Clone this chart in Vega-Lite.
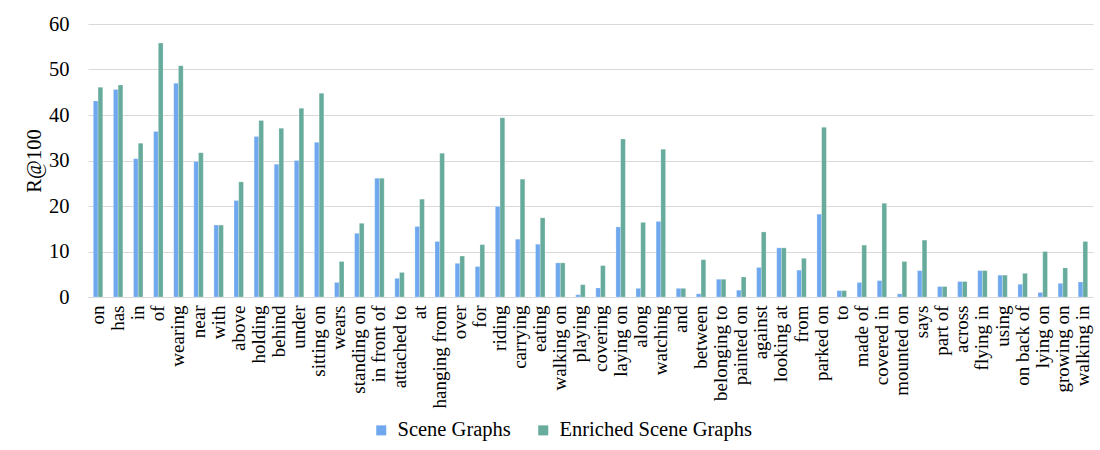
{
  "$schema": "https://vega.github.io/schema/vega-lite/v6.json",
  "width": 1005,
  "height": 273,
  "autosize": {"type": "none"},
  "padding": {"left": 88, "top": 24, "right": 7, "bottom": 153},
  "background": "white",
  "config": {
    "view": {"stroke": null},
    "font": "Liberation Serif",
    "axis": {"labelFont": "Liberation Serif", "titleFont": "Liberation Serif"},
    "legend": {"labelFont": "Liberation Serif"}
  },
  "data": {
    "values": [
      {"relation": "on", "series": "Scene Graphs", "value": 43.1},
      {"relation": "on", "series": "Enriched Scene Graphs", "value": 46.1},
      {"relation": "has", "series": "Scene Graphs", "value": 45.6},
      {"relation": "has", "series": "Enriched Scene Graphs", "value": 46.6},
      {"relation": "in", "series": "Scene Graphs", "value": 30.4},
      {"relation": "in", "series": "Enriched Scene Graphs", "value": 33.8},
      {"relation": "of", "series": "Scene Graphs", "value": 36.4},
      {"relation": "of", "series": "Enriched Scene Graphs", "value": 55.8},
      {"relation": "wearing", "series": "Scene Graphs", "value": 47.0},
      {"relation": "wearing", "series": "Enriched Scene Graphs", "value": 50.8},
      {"relation": "near", "series": "Scene Graphs", "value": 29.8},
      {"relation": "near", "series": "Enriched Scene Graphs", "value": 31.7},
      {"relation": "with", "series": "Scene Graphs", "value": 15.8},
      {"relation": "with", "series": "Enriched Scene Graphs", "value": 15.8},
      {"relation": "above", "series": "Scene Graphs", "value": 21.2},
      {"relation": "above", "series": "Enriched Scene Graphs", "value": 25.3},
      {"relation": "holding", "series": "Scene Graphs", "value": 35.3},
      {"relation": "holding", "series": "Enriched Scene Graphs", "value": 38.8},
      {"relation": "behind", "series": "Scene Graphs", "value": 29.2},
      {"relation": "behind", "series": "Enriched Scene Graphs", "value": 37.1},
      {"relation": "under", "series": "Scene Graphs", "value": 30.0},
      {"relation": "under", "series": "Enriched Scene Graphs", "value": 41.5},
      {"relation": "sitting on", "series": "Scene Graphs", "value": 34.0},
      {"relation": "sitting on", "series": "Enriched Scene Graphs", "value": 44.8},
      {"relation": "wears", "series": "Scene Graphs", "value": 3.2},
      {"relation": "wears", "series": "Enriched Scene Graphs", "value": 7.8},
      {"relation": "standing on", "series": "Scene Graphs", "value": 14.0},
      {"relation": "standing on", "series": "Enriched Scene Graphs", "value": 16.2},
      {"relation": "in front of", "series": "Scene Graphs", "value": 26.1},
      {"relation": "in front of", "series": "Enriched Scene Graphs", "value": 26.1},
      {"relation": "attached to", "series": "Scene Graphs", "value": 4.1},
      {"relation": "attached to", "series": "Enriched Scene Graphs", "value": 5.4},
      {"relation": "at", "series": "Scene Graphs", "value": 15.5},
      {"relation": "at", "series": "Enriched Scene Graphs", "value": 21.5},
      {"relation": "hanging from", "series": "Scene Graphs", "value": 12.2},
      {"relation": "hanging from", "series": "Enriched Scene Graphs", "value": 31.6},
      {"relation": "over", "series": "Scene Graphs", "value": 7.4},
      {"relation": "over", "series": "Enriched Scene Graphs", "value": 9.0},
      {"relation": "for", "series": "Scene Graphs", "value": 6.7},
      {"relation": "for", "series": "Enriched Scene Graphs", "value": 11.5},
      {"relation": "riding", "series": "Scene Graphs", "value": 19.9},
      {"relation": "riding", "series": "Enriched Scene Graphs", "value": 39.4},
      {"relation": "carrying", "series": "Scene Graphs", "value": 12.7},
      {"relation": "carrying", "series": "Enriched Scene Graphs", "value": 25.9},
      {"relation": "eating", "series": "Scene Graphs", "value": 11.6},
      {"relation": "eating", "series": "Enriched Scene Graphs", "value": 17.4},
      {"relation": "walking on", "series": "Scene Graphs", "value": 7.5},
      {"relation": "walking on", "series": "Enriched Scene Graphs", "value": 7.5},
      {"relation": "playing", "series": "Scene Graphs", "value": 0.5},
      {"relation": "playing", "series": "Enriched Scene Graphs", "value": 2.7},
      {"relation": "covering", "series": "Scene Graphs", "value": 2.0},
      {"relation": "covering", "series": "Enriched Scene Graphs", "value": 6.9},
      {"relation": "laying on", "series": "Scene Graphs", "value": 15.4},
      {"relation": "laying on", "series": "Enriched Scene Graphs", "value": 34.7},
      {"relation": "along", "series": "Scene Graphs", "value": 1.9},
      {"relation": "along", "series": "Enriched Scene Graphs", "value": 16.4},
      {"relation": "watching", "series": "Scene Graphs", "value": 16.6},
      {"relation": "watching", "series": "Enriched Scene Graphs", "value": 32.5},
      {"relation": "and", "series": "Scene Graphs", "value": 1.9},
      {"relation": "and", "series": "Enriched Scene Graphs", "value": 1.9},
      {"relation": "between", "series": "Scene Graphs", "value": 0.7},
      {"relation": "between", "series": "Enriched Scene Graphs", "value": 8.2},
      {"relation": "belonging to", "series": "Scene Graphs", "value": 3.9},
      {"relation": "belonging to", "series": "Enriched Scene Graphs", "value": 3.9},
      {"relation": "painted on", "series": "Scene Graphs", "value": 1.5},
      {"relation": "painted on", "series": "Enriched Scene Graphs", "value": 4.4},
      {"relation": "against", "series": "Scene Graphs", "value": 6.5},
      {"relation": "against", "series": "Enriched Scene Graphs", "value": 14.3},
      {"relation": "looking at", "series": "Scene Graphs", "value": 10.8},
      {"relation": "looking at", "series": "Enriched Scene Graphs", "value": 10.8},
      {"relation": "from", "series": "Scene Graphs", "value": 5.9},
      {"relation": "from", "series": "Enriched Scene Graphs", "value": 8.5},
      {"relation": "parked on", "series": "Scene Graphs", "value": 18.2},
      {"relation": "parked on", "series": "Enriched Scene Graphs", "value": 37.3},
      {"relation": "to", "series": "Scene Graphs", "value": 1.4},
      {"relation": "to", "series": "Enriched Scene Graphs", "value": 1.4},
      {"relation": "made of", "series": "Scene Graphs", "value": 3.2},
      {"relation": "made of", "series": "Enriched Scene Graphs", "value": 11.4},
      {"relation": "covered in", "series": "Scene Graphs", "value": 3.6},
      {"relation": "covered in", "series": "Enriched Scene Graphs", "value": 20.6},
      {"relation": "mounted on", "series": "Scene Graphs", "value": 0.7},
      {"relation": "mounted on", "series": "Enriched Scene Graphs", "value": 7.8},
      {"relation": "says", "series": "Scene Graphs", "value": 5.8},
      {"relation": "says", "series": "Enriched Scene Graphs", "value": 12.5},
      {"relation": "part of", "series": "Scene Graphs", "value": 2.3},
      {"relation": "part of", "series": "Enriched Scene Graphs", "value": 2.3},
      {"relation": "across", "series": "Scene Graphs", "value": 3.4},
      {"relation": "across", "series": "Enriched Scene Graphs", "value": 3.4},
      {"relation": "flying in", "series": "Scene Graphs", "value": 5.8},
      {"relation": "flying in", "series": "Enriched Scene Graphs", "value": 5.8},
      {"relation": "using", "series": "Scene Graphs", "value": 4.8},
      {"relation": "using", "series": "Enriched Scene Graphs", "value": 4.8},
      {"relation": "on back of", "series": "Scene Graphs", "value": 2.8},
      {"relation": "on back of", "series": "Enriched Scene Graphs", "value": 5.2},
      {"relation": "lying on", "series": "Scene Graphs", "value": 1.0},
      {"relation": "lying on", "series": "Enriched Scene Graphs", "value": 10.0},
      {"relation": "growing on", "series": "Scene Graphs", "value": 3.0},
      {"relation": "growing on", "series": "Enriched Scene Graphs", "value": 6.4},
      {"relation": "walking in", "series": "Scene Graphs", "value": 3.3},
      {"relation": "walking in", "series": "Enriched Scene Graphs", "value": 12.2}
    ]
  },
  "mark": {"type": "bar", "stroke": "#ffffff", "strokeWidth": 0.4, "strokeOpacity": 0.6},
  "encoding": {
    "x": {
      "field": "relation",
      "type": "nominal",
      "sort": null,
      "scale": {"paddingInner": 0.53, "paddingOuter": 0.265},
      "axis": {
        "title": null,
        "labelAngle": -90,
        "labelFont": "Liberation Serif",
        "labelFontSize": 19,
        "labelColor": "#000000",
        "labelPadding": 8,
        "ticks": false,
        "domainColor": "#d9d9d9",
        "domainWidth": 1,
        "labelOverlap": false
      }
    },
    "xOffset": {
      "field": "series",
      "type": "nominal",
      "sort": ["Scene Graphs", "Enriched Scene Graphs"],
      "scale": {"paddingInner": 0, "paddingOuter": 0}
    },
    "y": {
      "field": "value",
      "type": "quantitative",
      "scale": {"domain": [0, 60], "nice": false},
      "axis": {
        "title": "R@100",
        "titleFont": "Liberation Serif",
        "titleFontSize": 20.5,
        "titleFontWeight": "normal",
        "titleColor": "#000000",
        "titlePadding": 4,
        "values": [0, 10, 20, 30, 40, 50, 60],
        "labelFont": "Liberation Serif",
        "labelFontSize": 20.5,
        "labelColor": "#000000",
        "labelPadding": 19,
        "ticks": false,
        "domain": false,
        "gridColor": "#d9d9d9",
        "gridWidth": 1
      }
    },
    "color": {
      "field": "series",
      "type": "nominal",
      "sort": ["Scene Graphs", "Enriched Scene Graphs"],
      "scale": {
        "domain": ["Scene Graphs", "Enriched Scene Graphs"],
        "range": ["#6fa8ee", "#66ab9b"]
      },
      "legend": {
        "title": null,
        "orient": "none",
        "legendX": 283,
        "legendY": 396,
        "direction": "horizontal",
        "symbolType": "square",
        "symbolSize": 100,
        "symbolStrokeWidth": 0,
        "labelFont": "Liberation Serif",
        "labelFontSize": 20.5,
        "labelColor": "#000000",
        "labelOffset": 6,
        "columnPadding": 22,
        "labelLimit": 400
      }
    }
  }
}
